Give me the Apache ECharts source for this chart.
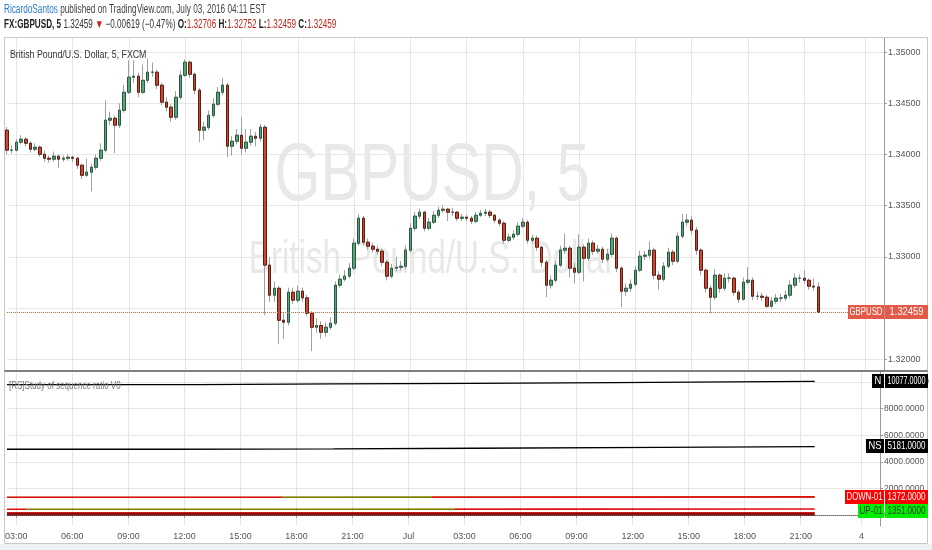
<!DOCTYPE html>
<html><head><meta charset="utf-8">
<script src="https://cdn.jsdelivr.net/npm/echarts@6/dist/echarts.min.js"></script>
<style>html,body{margin:0;padding:0;background:#fff;}#c{width:932px;height:550px;}</style>
</head><body><div id="c"></div>
<script>
// ---------------- DATA ----------------
const firstOpen = 1.34238;
const closes = [
1.34043,1.34043,1.34121,1.34150,1.34111,1.34052,1.34072,1.34003,1.33964,1.33955,
1.33984,1.33955,1.33964,1.33974,1.33964,1.33896,1.33798,1.33828,1.33876,1.33964,
1.34043,1.34336,1.34355,1.34287,1.34433,1.34609,1.34756,1.34766,1.34609,1.34726,
1.34805,1.34805,1.34678,1.34512,1.34463,1.34365,1.34560,1.34775,1.34902,1.34785,
1.34629,1.34238,1.34267,1.34384,1.34492,1.34609,1.34678,1.34082,1.34130,1.34189,
1.34062,1.34121,1.34179,1.34160,1.34267,1.32920,1.32626,1.32694,1.32381,1.32362,
1.32655,1.32577,1.32665,1.32600,1.32450,1.32313,1.32330,1.32264,1.32313,1.32352,
1.32724,1.32782,1.32812,1.32890,1.33134,1.33378,1.33144,1.33105,1.33075,1.33056,
1.32948,1.32812,1.32890,1.32899,1.32909,1.33066,1.33280,1.33398,1.33437,1.33280,
1.33339,1.33407,1.33456,1.33466,1.33437,1.33437,1.33378,1.33388,1.33378,1.33349,
1.33407,1.33427,1.33437,1.33407,1.33359,1.33329,1.33163,1.33193,1.33222,1.33300,
1.33339,1.33163,1.33183,1.33095,1.32948,1.32724,1.32772,1.32919,1.33066,1.33085,
1.32890,1.32851,1.33095,1.32987,1.33134,1.33056,1.33075,1.32978,1.33026,1.33183,
1.32890,1.32665,1.32694,1.32733,1.32870,1.33007,1.33017,1.33066,1.32821,1.32782,
1.32909,1.33046,1.32958,1.33202,1.33339,1.33359,1.33261,1.33066,1.32870,1.32694,
1.32606,1.32821,1.32694,1.32792,1.32792,1.32655,1.32587,1.32753,1.32772,1.32616,
1.32616,1.32606,1.32518,1.32567,1.32597,1.32597,1.32626,1.32724,1.32792,1.32792,
1.32772,1.32714,1.32706,1.32459];
const highs = [
1.34270,1.34090,1.34150,1.34190,1.34170,1.34130,1.34110,1.34090,1.34040,1.33990,
1.34030,1.34000,1.33990,1.34000,1.33990,1.33980,1.33910,1.33960,1.33910,1.34000,
1.34110,1.34530,1.34420,1.34380,1.34500,1.34680,1.34920,1.34922,1.34800,1.34880,
1.34940,1.34900,1.34830,1.34700,1.34560,1.34490,1.34620,1.34820,1.34930,1.34920,
1.34800,1.34650,1.34320,1.34430,1.34550,1.34660,1.34750,1.34700,1.34180,1.34250,
1.34365,1.34250,1.34250,1.34220,1.34300,1.34290,1.32997,1.32760,1.32720,1.32450,
1.32700,1.32700,1.32720,1.32700,1.32630,1.32470,1.32400,1.32370,1.32360,1.32410,
1.32760,1.32830,1.32870,1.32940,1.33180,1.33417,1.33400,1.33180,1.33140,1.33110,
1.33080,1.32970,1.32930,1.33000,1.32960,1.33110,1.33330,1.33440,1.33470,1.33450,
1.33380,1.33450,1.33490,1.33500,1.33480,1.33480,1.33450,1.33420,1.33410,1.33400,
1.33440,1.33460,1.33470,1.33460,1.33420,1.33380,1.33350,1.33230,1.33260,1.33340,
1.33380,1.33360,1.33220,1.33210,1.33110,1.32970,1.32820,1.32960,1.33110,1.33230,
1.33110,1.32940,1.33220,1.33120,1.33180,1.33160,1.33120,1.33100,1.33080,1.33230,
1.33200,1.32910,1.32740,1.32780,1.32910,1.33060,1.33060,1.33150,1.33090,1.32860,
1.32950,1.33090,1.33070,1.33240,1.33420,1.33420,1.33400,1.33290,1.33090,1.32890,
1.32720,1.32880,1.32840,1.32840,1.32840,1.32810,1.32680,1.32800,1.32900,1.32800,
1.32660,1.32650,1.32630,1.32610,1.32640,1.32640,1.32670,1.32770,1.32840,1.32830,
1.32870,1.32790,1.32790,1.32752];
const lows = [
1.34000,1.34010,1.34030,1.34100,1.34080,1.34020,1.34030,1.33980,1.33930,1.33920,
1.33930,1.33870,1.33930,1.33940,1.33930,1.33860,1.33760,1.33780,1.33640,1.33850,
1.33940,1.34020,1.34290,1.34013,1.34260,1.34410,1.34590,1.34700,1.34560,1.34590,
1.34700,1.34760,1.34640,1.34480,1.34420,1.34320,1.34340,1.34540,1.34760,1.34750,
1.34590,1.34120,1.34140,1.34240,1.34360,1.34470,1.34580,1.33974,1.33990,1.34100,
1.34000,1.34020,1.34090,1.34080,1.34130,1.32430,1.32560,1.32560,1.32147,1.32200,
1.32330,1.32540,1.32550,1.32560,1.32420,1.32079,1.32260,1.32200,1.32220,1.32290,
1.32330,1.32700,1.32760,1.32790,1.32870,1.33110,1.33110,1.33070,1.33040,1.33020,
1.32910,1.32770,1.32790,1.32860,1.32870,1.32880,1.33040,1.33250,1.33370,1.33250,
1.33260,1.33320,1.33380,1.33430,1.33350,1.33400,1.33350,1.33350,1.33350,1.33320,
1.33330,1.33390,1.33400,1.33380,1.33330,1.33300,1.33130,1.33140,1.33170,1.33200,
1.33280,1.33130,1.33130,1.33060,1.32900,1.32606,1.32690,1.32750,1.32900,1.33030,
1.32800,1.32740,1.32830,1.32760,1.32960,1.33020,1.33030,1.32940,1.32950,1.33000,
1.32850,1.32510,1.32620,1.32660,1.32710,1.32850,1.32970,1.32990,1.32780,1.32680,
1.32760,1.32890,1.32920,1.32940,1.33180,1.33300,1.33220,1.33020,1.32820,1.32650,
1.32450,1.32580,1.32650,1.32670,1.32750,1.32620,1.32550,1.32570,1.32730,1.32580,
1.32580,1.32570,1.32500,1.32500,1.32540,1.32560,1.32570,1.32600,1.32700,1.32750,
1.32740,1.32680,1.32670,1.32459];

// study pane: [bar index, value] step points
const studyN     = [[0,9810],[41,9860],[70,9900],[100,9960],[130,10010],[155,10050],[173,10077]];
const studyNS    = [[0,4943],[35,4966],[70,5020],[100,5080],[140,5140],[173,5181]];
const studyDown1 = [[0,1330],[60,1345],[120,1360],[173,1372]];
const studyUp1   = [[0,1320],[60,1335],[120,1345],[173,1351]];
const study02    = [[0,430],[60,440],[120,450],[173,456]];
const study03    = [[0,150],[173,160]];
const study04    = [[0,40],[173,45]];
const down1OliveBars = [59, 91];
const s02OliveBars   = [4, 96];

// axis ticks
const priceTicks = [1.32,1.325,1.33,1.335,1.34,1.345,1.35];
const studyTicks = [0,2000,4000,6000,8000,10000];

// time slots: 15-minute bars, then empty future slots after the weekend gap
const barStart = Date.UTC(2016,5,30,2,30);
const futureStart = Date.UTC(2016,6,3,21,45);
const futureSlots = 14;
// ------------------------------------------------------------------------

const STEP = 15*60000;
const slotTimes = [];
for (let k=0;k<closes.length;k++) slotTimes.push(barStart + k*STEP);
for (let k=0;k<futureSlots;k++) slotTimes.push(futureStart + k*STEP);
const pad = n => (n<10?'0':'')+n;
const cats = slotTimes.map(t => { const d=new Date(t); return d.getUTCFullYear()+'-'+pad(d.getUTCMonth()+1)+'-'+pad(d.getUTCDate())+' '+pad(d.getUTCHours())+':'+pad(d.getUTCMinutes()); });
function tickText(idx){
  const d = new Date(slotTimes[idx]);
  const h=d.getUTCHours(), m=d.getUTCMinutes();
  if (m!==0) return '';
  if (h===0) return d.getUTCDate()===1 ? 'Jul' : String(d.getUTCDate());
  if (h%3===0) return pad(h)+':00';
  return '';
}
const isTick = idx => tickText(idx)!=='';

const opens = closes.map((c,i)=> i===0 ? firstOpen : closes[i-1]);
const wickData = closes.map((c,i)=>[opens[i], c, lows[i], highs[i]]);
const bodyData = closes.map((c,i)=>[opens[i], c, Math.min(opens[i],c), Math.max(opens[i],c)]);
const lastClose = closes[closes.length-1];

const SANS = "'Liberation Sans',Arial,sans-serif";
const GRID_L = 7, GRID_R = 48;
const gridLine = {show:true, lineStyle:{color:'#e6e6e6', width:1}};

function xAxisCfg(gridIndex, showLabels){
  return {
    type:'category', gridIndex, data:cats, boundaryGap:false,
    axisLine:{show:showLabels, lineStyle:{color:'#9a9a9a'}},
    axisTick:{show:showLabels, interval:(i)=>isTick(i), length:3, lineStyle:{color:'#9a9a9a'}},
    axisLabel:{show:showLabels, interval:(i)=>isTick(i), formatter:(v,i)=>tickText(i),
      color:'#555', fontFamily:SANS, fontSize:9, margin:6},
    splitLine:{show:true, interval:(i)=>isTick(i), lineStyle:{color:'#e6e6e6'}}
  };
}

const option = {
  animation:false,
  backgroundColor:'#ffffff',
  grid:[
    {left:GRID_L, right:GRID_R, top:38, height:332},
    {left:GRID_L, right:GRID_R, top:372, height:154}
  ],
  xAxis:[xAxisCfg(0,false), xAxisCfg(1,true)],
  yAxis:[
    {type:'value', gridIndex:0, position:'right', min:1.31895, max:1.35139, scale:true,
     axisLine:{show:true, lineStyle:{color:'#9a9a9a'}},
     axisTick:{show:true, length:3, customValues:priceTicks, lineStyle:{color:'#9a9a9a'}},
     axisLabel:{show:true, customValues:priceTicks, formatter:v=>v.toFixed(5), color:'#555', fontFamily:SANS, fontSize:9, margin:4},
     splitLine:gridLine},
    {type:'value', gridIndex:1, position:'right', min:-827, max:10752,
     axisLine:{show:true, lineStyle:{color:'#9a9a9a'}},
     axisTick:{show:true, length:3, customValues:studyTicks, lineStyle:{color:'#9a9a9a'}},
     axisLabel:{show:true, customValues:studyTicks, formatter:v=>v.toFixed(4), color:'#555', fontFamily:SANS, fontSize:8.5, margin:4},
     splitLine:gridLine}
  ],
  visualMap:[
    {type:'piecewise', show:false, seriesIndex:5, dimension:0,
     pieces:[{lt:down1OliveBars[0], color:'#e01010'},{gte:down1OliveBars[0], lte:down1OliveBars[1], color:'#808000'},{gt:down1OliveBars[1], color:'#e01010'}]},
    {type:'piecewise', show:false, seriesIndex:6, dimension:0,
     pieces:[{lt:s02OliveBars[0], color:'#e01010'},{gte:s02OliveBars[0], lte:s02OliveBars[1], color:'#808000'},{gt:s02OliveBars[1], color:'#e01010'}]}
  ],
  series:[
    {name:'wicks', type:'candlestick', xAxisIndex:0, yAxisIndex:0, data:wickData, barWidth:3, clip:false, silent:true,
     itemStyle:{color:'#a0a0a0', color0:'#a0a0a0', borderColor:'#a0a0a0', borderColor0:'#a0a0a0', borderWidth:1}},
    {name:'GBPUSD', type:'candlestick', xAxisIndex:0, yAxisIndex:0, data:bodyData, barWidth:3, clip:false, silent:true,
     itemStyle:{color:'#56a57d', color0:'#cc4630', borderColor:'#2a5a3e', borderColor0:'#5e1d13', borderWidth:1},
     markLine:{symbol:'none', silent:true, precision:5, label:{show:false}, lineStyle:{type:'dotted', color:'#e0603c', width:1},
       data:[{yAxis:lastClose}]}},
    {name:'N', type:'line', xAxisIndex:1, yAxisIndex:1, data:studyN, step:'end', showSymbol:false, lineStyle:{color:'#000', width:1.3}},
    {name:'NS', type:'line', xAxisIndex:1, yAxisIndex:1, data:studyNS, step:'end', showSymbol:false, lineStyle:{color:'#000', width:1.3}},
    {name:'UP-01', type:'line', xAxisIndex:1, yAxisIndex:1, data:studyUp1, step:'end', showSymbol:false, lineStyle:{color:'#808000', width:1.3}},
    {name:'DOWN-01', type:'line', xAxisIndex:1, yAxisIndex:1, data:studyDown1, step:'end', showSymbol:false, lineStyle:{width:1.6}},
    {name:'S-02', type:'line', xAxisIndex:1, yAxisIndex:1, data:study02, step:'end', showSymbol:false, lineStyle:{width:1.6}},
    {name:'S-03', type:'line', xAxisIndex:1, yAxisIndex:1, data:study03, step:'end', showSymbol:false, lineStyle:{color:'#d01818', width:2}},
    {name:'S-04', type:'line', xAxisIndex:1, yAxisIndex:1, data:study04, step:'end', showSymbol:false, lineStyle:{color:'#8b1010', width:3},
     markLine:{symbol:'none', silent:true, precision:4, label:{show:false}, lineStyle:{type:'dotted', color:'#666', width:1}, data:[{yAxis:0}]}}
  ]
};

const chart = echarts.init(document.getElementById('c'));
chart.setOption(option);

// ---------- decorations: header, watermark, frame, right-side value labels ----------
const ctx = document.createElement('canvas').getContext('2d');
function textW(t, font){ ctx.font = font; return ctx.measureText(t).width; }
const AXIS_X = 932 - GRID_R;

const els = [];
els.push({type:'rect', shape:{x:0,y:544,width:932,height:6}, style:{fill:'#eef1f4'}, z:0, silent:true});
els.push({type:'rect', shape:{x:4.5,y:37.5,width:923,height:506}, style:{fill:'none', stroke:'#c8c8c8', lineWidth:1}, z:100, silent:true});
els.push({type:'line', shape:{x1:4.5,y1:371,x2:927.5,y2:371}, style:{stroke:'#555', lineWidth:1.5}, z:100, silent:true});
// header
els.push({type:'text', x:4, y:4, scaleX:0.685, z:100, silent:true, style:{
  text:'{a|RicardoSantos} {b|published on TradingView.com, July 03, 2016 04:11 EST}',
  rich:{a:{fill:'#2b7cd0', font:'12px '+SANS}, b:{fill:'#444', font:'12px '+SANS}}, textVerticalAlign:'top'}});
els.push({type:'text', x:4, y:19, scaleX:0.68, z:100, silent:true, style:{
  text:'{k|FX:GBPUSD, 5} {n|1.32459} {r|▼} {n|\u22120.00619 (\u22120.47%)} {k|O:}{v|1.32706} {k|H:}{v|1.32752} {k|L:}{v|1.32459} {k|C:}{v|1.32459}',
  rich:{k:{fill:'#222', font:'bold 12px '+SANS}, n:{fill:'#333', font:'12px '+SANS}, r:{fill:'#d01818', font:'12px '+SANS}, v:{fill:'#c0281e', font:'12px '+SANS}},
  textVerticalAlign:'top'}});
els.push({type:'text', x:10, y:49, scaleX:0.8, z:100, silent:true, style:{text:'British Pound/U.S. Dollar, 5, FXCM', fill:'#333', font:'11px '+SANS, textVerticalAlign:'top'}});
els.push({type:'text', x:9, y:381, scaleX:0.8, z:100, silent:true, style:{text:'[RS]Study of sequence ratio V0', fill:'#777', font:'10px '+SANS, textVerticalAlign:'top'}});
// watermark
els.push({type:'text', x:432, y:177, scaleX:0.72, z:0, silent:true, style:{text:'GBPUSD, 5', fill:'#e8e8e8', font:'82px '+SANS, textAlign:'center', textVerticalAlign:'middle'}});
els.push({type:'text', x:432, y:260, scaleX:0.72, z:0, silent:true, style:{text:'British Pound/U.S. Dollar', fill:'#e8e8e8', font:'46px '+SANS, textAlign:'center', textVerticalAlign:'middle'}});

// value labels on the right axis
const lastOf = a => a[a.length-1][1];
const tags = [
  {grid:0, name:'GBPUSD', value:lastClose, bg:'#e35a48', fg:'#fff', dec:5, nw:36, fs:11},
  {grid:1, name:'N', value:lastOf(studyN), bg:'#000', fg:'#fff', dec:4, nw:12, fs:11},
  {grid:1, name:'NS', value:lastOf(studyNS), bg:'#000', fg:'#fff', dec:4, nw:18, fs:11},
  {grid:1, name:'DOWN-01', value:lastOf(studyDown1), bg:'#ff0000', fg:'#fff', dec:4, nw:39, fs:11},
  {grid:1, name:'UP-01', value:lastOf(studyUp1), bg:'#00ee00', fg:'#333', dec:4, nw:26, fs:11}
];
tags.forEach(t => { t.y = chart.convertToPixel({yAxisIndex:t.grid}, t.value); });
const H = 14;
[0,1].forEach(g => {
  const list = tags.filter(t=>t.grid===g).sort((a,b)=>a.y-b.y);
  for (let i=1;i<list.length;i++) if (list[i].y < list[i-1].y + H) list[i].y = list[i-1].y + H;
});
const VW = 43;
tags.forEach(t => {
  const font = t.fs+'px '+SANS;
  const vt = t.value.toFixed(t.dec);
  const top = Math.round(t.y - H/2);
  const sN = Math.min(0.85, (t.nw-3)/textW(t.name, font));
  const sV = Math.min(0.85, (VW-5)/textW(vt, font));
  els.push({type:'rect', shape:{x:AXIS_X-t.nw, y:top, width:t.nw, height:H}, style:{fill:t.bg}, z:110, silent:true});
  els.push({type:'rect', shape:{x:AXIS_X+1, y:top, width:VW, height:H}, style:{fill:t.bg}, z:110, silent:true});
  els.push({type:'text', x:AXIS_X-t.nw/2, y:top+H/2, scaleX:sN, z:111, silent:true, style:{text:t.name, fill:t.fg, font, textAlign:'center', textVerticalAlign:'middle'}});
  els.push({type:'text', x:AXIS_X+1+VW/2, y:top+H/2, scaleX:sV, z:111, silent:true, style:{text:vt, fill:t.fg, font, textAlign:'center', textVerticalAlign:'middle'}});
});
chart.setOption({graphic:{elements:els}});
</script>
</body></html>
